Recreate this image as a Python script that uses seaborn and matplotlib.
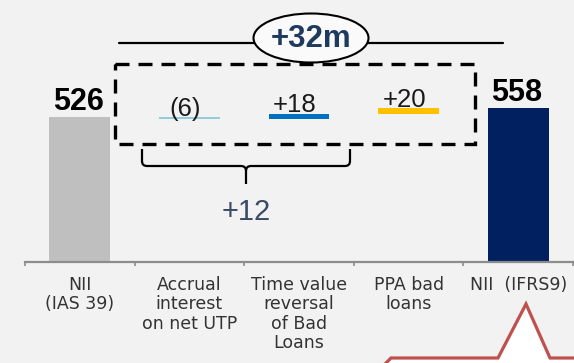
import numpy as np
import pandas as pd
import matplotlib
matplotlib.use("Agg")
import matplotlib.pyplot as plt
import seaborn as sns
from matplotlib.patches import Ellipse, Rectangle, Polygon, PathPatch
from matplotlib.path import Path

# ---------------- data ----------------
categories = ["NII\n(IAS 39)", "Accrual\ninterest\non net UTP", "Time value\nreversal\nof Bad\nLoans",
              "PPA bad\nloans", "NII  (IFRS9)"]
total_cats = ["NII\n(IAS 39)", "NII  (IFRS9)"]
total_values = [526, 558]
total_labels = ["526", "558"]
delta_values = [-6, 18, 20]
delta_labels = ["(6)", "+18", "+20"]
subtotal_label = "+12"
overall_label = "+32m"

# ---------------- style ----------------
BG = "#F2F2F2"
total_colors = {"NII\n(IAS 39)": "#BFBFBF", "NII  (IFRS9)": "#002060"}
delta_colors = ["#92CDDC", "#0070C0", "#FFC000"]

sns.set_theme(style="white")
plt.rcParams["font.family"] = ["DejaVu Sans"]

W, H = 574, 363
fig = plt.figure(figsize=(W / 100, H / 100), dpi=100)
fig.patch.set_facecolor(BG)

ax = fig.add_axes([25 / W, 1 - 262 / H, 548 / W, 262 / H])
ax.set_facecolor(BG)

df_tot = pd.DataFrame({"cat": total_cats, "value": total_values})
sns.barplot(data=df_tot, x="cat", y="value", hue="cat", order=categories,
            hue_order=total_cats, palette=total_colors, width=0.556,
            saturation=1, legend=False, linewidth=0, ax=ax)

# floating waterfall segments
starts = np.concatenate([[total_values[0]], total_values[0] + np.cumsum(delta_values)[:-1]])
bottoms = np.minimum(starts, starts + np.array(delta_values))
heights = np.abs(delta_values)
xpos = np.arange(1, 1 + len(delta_values))
ax.bar(xpos, heights, bottom=bottoms, width=0.556, color=delta_colors, linewidth=0)

ax.set_xlim(-0.5, 4.5)
ax.set_ylim(0, 950)

# labels on totals
for i, (v, lab) in zip([0, 4], zip(total_values, total_labels)):
    ax.annotate(lab, (i, v), xytext=(-1, 11), textcoords="offset points",
                ha="center", va="center", fontsize=22, fontweight="bold",
                family=["Liberation Sans"], color="#000000")
for x, b, h, lab in zip(xpos, bottoms, heights, delta_labels):
    ax.annotate(lab, (x, b + h), xytext=(-3, 6), textcoords="offset points",
                ha="center", va="center", fontsize=18.5,
                family=["Liberation Sans"], color="#1A1A1A")

# axes styling
for s in ["top", "right", "left"]:
    ax.spines[s].set_visible(False)
ax.spines["bottom"].set_color("#8C8C8C")
ax.spines["bottom"].set_linewidth(1.6)
ax.set_yticks([])
ax.set_xlabel("")
ax.set_ylabel("")
ax.set_xticks(range(len(categories)))
ax.set_xticklabels(categories, fontsize=12.5, color="#333333", linespacing=1.1, va="top")
ax.set_xticks(np.arange(-0.5, 4.6, 1.0), minor=True)
ax.tick_params(axis="x", which="major", length=0, pad=10)
ax.tick_params(axis="x", which="minor", length=3, width=1.2, color="#8C8C8C", direction="out", bottom=True)

# ---------------- overlay decorations (pixel coords) ----------------
ov = fig.add_axes([0, 0, 1, 1])
ov.set_xlim(0, W)
ov.set_ylim(H, 0)
ov.axis("off")
ov.patch.set_alpha(0)

# dashed box
ov.add_patch(Rectangle((115, 64), 360, 80, fill=False, edgecolor="black",
                       linewidth=2.4, linestyle=(0, (4.2, 2.7))))
# top connector lines
ov.plot([119, 254], [43, 43], color="black", lw=1.6)
ov.plot([368, 503], [43, 43], color="black", lw=1.6)
# ellipse with +32m
ov.add_patch(Ellipse((311, 38), 115, 49, facecolor="#FAFAFA", edgecolor="black", lw=1.5))
ov.text(311, 39, overall_label, ha="center", va="center", fontsize=22.5,
        fontweight="bold", family=["Liberation Sans"], color="#1F3A5F")

# brace
verts = [(142, 149), (142, 161), (142, 166), (147, 166), (241, 166), (246, 166), (246, 171),
         (246, 184)]
codes = [Path.MOVETO, Path.LINETO, Path.CURVE3, Path.CURVE3, Path.LINETO, Path.CURVE3, Path.CURVE3,
         Path.LINETO]
ov.add_patch(PathPatch(Path(verts, codes), fill=False, edgecolor="black", lw=1.6))
verts2 = [(350, 149), (350, 161), (350, 166), (345, 166), (251, 166), (246, 166), (246, 171)]
codes2 = [Path.MOVETO, Path.LINETO, Path.CURVE3, Path.CURVE3, Path.LINETO, Path.CURVE3, Path.CURVE3]
ov.add_patch(PathPatch(Path(verts2, codes2), fill=False, edgecolor="black", lw=1.6))
ov.text(246, 212, subtotal_label, ha="center", va="center", fontsize=21,
        family=["Liberation Sans"], color="#3A4A66")

# red callout
callout = Polygon([(383, 380), (383, 366), (391, 358), (498, 358), (526, 304), (550, 358),
                   (590, 358), (590, 380)], closed=True, facecolor="white",
                  edgecolor="#C0504D", lw=2.3, joinstyle="miter")
ov.add_patch(callout)

fig.savefig("out.png", dpi=100, facecolor=BG)
